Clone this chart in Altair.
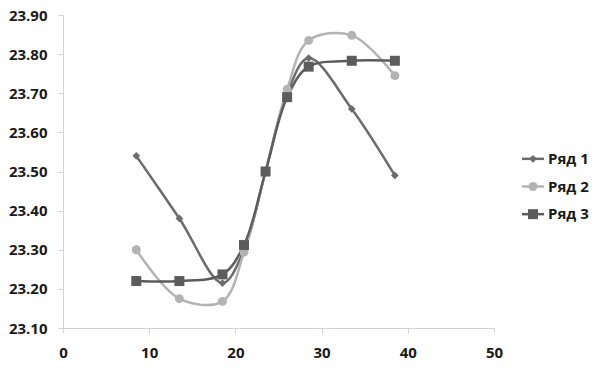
import altair as alt
import pandas as pd

x_vals = [8.5, 13.5, 18.5, 21.0, 23.5, 26.0, 28.5, 33.5, 38.5]
series_names = ["Ряд 1", "Ряд 2", "Ряд 3"]
s1 = [23.54, 23.38, 23.215, 23.30, 23.50, 23.70, 23.79, 23.66, 23.49]
s2 = [23.30, 23.175, 23.168, 23.294, 23.50, 23.71, 23.835, 23.848, 23.745]
s3 = [23.22, 23.22, 23.237, 23.312, 23.50, 23.69, 23.768, 23.783, 23.783]
y_ticks = [23.1, 23.2, 23.3, 23.4, 23.5, 23.6, 23.7, 23.8, 23.9]
x_ticks = [0, 10, 20, 30, 40, 50]
colors = ["#6c6c6c", "#b3b3b3", "#5c5c5c"]
shapes = ["diamond", "circle", "square"]
sizes = [60, 100, 95]

rows = []
for name, vals in zip(series_names, [s1, s2, s3]):
    for xv, yv in zip(x_vals, vals):
        rows.append({"x": xv, "y": yv, "series": name})
df = pd.DataFrame(rows)
leg_df = pd.DataFrame({"series": series_names})

FONT = "Open Sans"

color_enc = alt.Color("series:N", scale=alt.Scale(domain=series_names, range=colors), legend=None)
shape_enc = alt.Shape("series:N", scale=alt.Scale(domain=series_names, range=shapes), legend=None)
size_enc = alt.Size("series:N", scale=alt.Scale(domain=series_names, range=sizes), legend=None)

x_enc = alt.X("x:Q", scale=alt.Scale(domain=[0, 50], nice=False),
              axis=alt.Axis(values=x_ticks, title=None, grid=False, labelPadding=12,
                            domainColor="#d4d4d4", tickColor="#d4d4d4", tickSize=5,
                            labelOverlap=False, labelFlush=False,
                            labelFont=FONT, labelFontSize=15, labelFontWeight="bold",
                            labelColor="#1a1a1a"))
y_enc = alt.Y("y:Q", scale=alt.Scale(domain=[23.1, 23.9], nice=False, zero=False),
              axis=alt.Axis(values=y_ticks, format=".2f", title=None, grid=False, labelPadding=11,
                            domainColor="#d4d4d4", tickColor="#d4d4d4", tickSize=5,
                            labelOverlap=False, labelFlush=False, labelBound=False,
                            labelFont=FONT, labelFontSize=15, labelFontWeight="bold",
                            labelColor="#1a1a1a"))

lines = alt.Chart(df).mark_line(interpolate="catmull-rom", strokeWidth=2.5).encode(
    x=x_enc, y=y_enc, color=color_enc, detail="series:N")
points = alt.Chart(df).mark_point(filled=True, opacity=1).encode(
    x=x_enc, y=y_enc, color=color_enc, shape=shape_enc, size=size_enc)

main = alt.layer(lines, points)

leg_y = alt.Y("series:N", scale=alt.Scale(domain=series_names, range=[130, 213]), axis=None)
leg_rule = alt.Chart(leg_df).mark_rule(strokeWidth=2.5).encode(
    x=alt.value(459), x2=alt.value(481), y=leg_y, color=color_enc)
leg_pts = alt.Chart(leg_df).mark_point(filled=True, opacity=1).encode(
    x=alt.value(470), y=leg_y, color=color_enc, shape=shape_enc, size=size_enc)
leg_text = alt.Chart(leg_df).mark_text(align="left", baseline="middle", font=FONT,
                                        fontSize=15, fontWeight="bold", color="#1a1a1a").encode(
    x=alt.value(485), y=leg_y, text="series:N")
legend = alt.layer(leg_rule, leg_pts, leg_text)

chart = alt.layer(main, legend).resolve_scale(y="independent").properties(
    width=431, height=313,
    padding={"left": 0, "top": 0, "right": 0, "bottom": 0},
).configure_view(stroke=None).configure_axis(labelOverlap=False)

chart.save("out.html", embed_options={"renderer": "svg", "actions": False})
